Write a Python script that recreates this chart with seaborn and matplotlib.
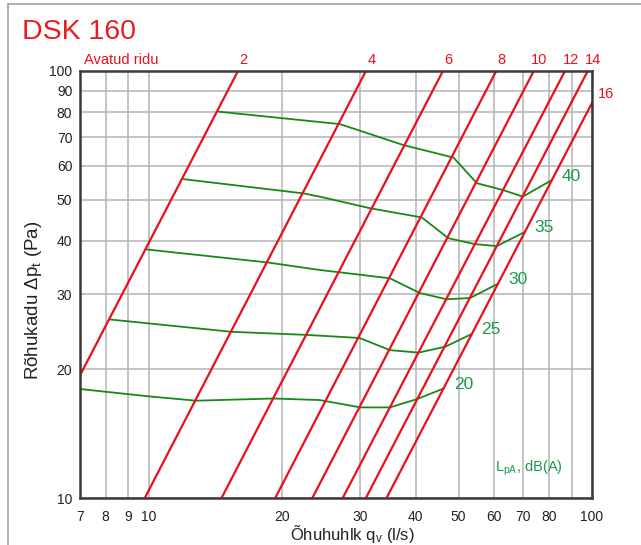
import numpy as np
import pandas as pd
import matplotlib
matplotlib.use("Agg")
import matplotlib.pyplot as plt
from matplotlib.lines import Line2D
import seaborn as sns

# ---------------- data ----------------
# damper positions (red lines): flow q at dp=10 Pa and at dp=100 Pa
positions = ["2", "4", "6", "8", "10", "12", "14", "16"]
q_at_10 = [5.03, 9.8, 14.6, 19.3, 23.4, 27.4, 30.9, 34.4]
q_at_100 = [15.9, 30.9, 46.1, 60.8, 73.9, 86.9, 97.8, 109.0]
dp_ends = [10, 100]

# sound level contours (green lines)
levels = ["20", "25", "30", "35", "40"]
lvl_q = {
    "20": [7.0, 10.0, 12.8, 19.1, 24.3, 30.0, 35.0, 40.2, 46.4],
    "25": [8.14, 15.4, 22.7, 29.9, 35.0, 40.6, 46.6, 53.5],
    "30": [9.9, 18.6, 24.3, 26.8, 35.0, 40.9, 47.0, 53.1, 61.5],
    "35": [12.0, 22.3, 24.3, 31.6, 41.3, 47.4, 54.5, 61.0, 70.6],
    "40": [14.4, 27.0, 37.5, 48.7, 55.0, 63.1, 69.8, 81.1],
}
lvl_dp = {
    "20": [18.0, 17.3, 16.9, 17.1, 16.96, 16.3, 16.3, 17.03, 18.07],
    "25": [26.2, 24.5, 24.1, 23.7, 22.2, 21.9, 22.6, 24.2],
    "30": [38.2, 35.6, 34.2, 33.8, 32.7, 30.2, 29.2, 29.4, 31.8],
    "35": [55.8, 51.7, 50.8, 47.7, 45.4, 40.6, 39.3, 38.9, 42.0],
    "40": [80.3, 75.1, 67.1, 62.7, 54.6, 52.6, 50.8, 55.5],
}

x_ticks = [7, 8, 9, 10, 20, 30, 40, 50, 60, 70, 80, 90, 100]
x_tick_labels = ["7", "8", "9", "10", "20", "30", "40", "50", "60", "70", "80", "", "100"]
y_ticks = [10, 20, 30, 40, 50, 60, 70, 80, 90, 100]
y_tick_labels = ["10", "20", "30", "40", "50", "60", "70", "80", "90", "100"]

# ---------------- style ----------------
sns.set_style("white")
plt.rcParams["font.family"] = ["Liberation Sans", "DejaVu Sans"]

RED = "#e8101c"
GREEN = "#17881a"
GREEN_TXT = "#1a9a4a"
GRID = "#b4b4b4"
SPINE = "#3a3a3a"
TXT = "#222222"

W, H = 641, 545
fig = plt.figure(figsize=(W / 100, H / 100), dpi=100)
ax = fig.add_axes([80 / W, 1 - 498 / H, 512 / W, 427 / H])

# red lines
red_rows = []
for p, a, b in zip(positions, q_at_10, q_at_100):
    red_rows.append({"pos": p, "q": a, "dp": dp_ends[0]})
    red_rows.append({"pos": p, "q": b, "dp": dp_ends[1]})
red_df = pd.DataFrame(red_rows)

green_rows = []
for lv in levels:
    for i, (q, d) in enumerate(zip(lvl_q[lv], lvl_dp[lv])):
        green_rows.append({"lvl": lv, "i": i, "q": q, "dp": d})
green_df = pd.DataFrame(green_rows)

ax.set_xscale("log")
ax.set_yscale("log")

sns.lineplot(data=green_df, x="q", y="dp", units="lvl", estimator=None,
             sort=False, color=GREEN, lw=1.3, ax=ax, zorder=3)
sns.lineplot(data=red_df, x="q", y="dp", units="pos", estimator=None,
             sort=False, color=RED, lw=1.6, ax=ax, zorder=4)

ax.set_xlim(7, 100)
ax.set_ylim(10, 100)
ax.xaxis.set_minor_locator(matplotlib.ticker.NullLocator())
ax.yaxis.set_minor_locator(matplotlib.ticker.NullLocator())
ax.set_xticks(x_ticks)
ax.set_xticklabels(x_tick_labels)
ax.set_yticks(y_ticks)
ax.set_yticklabels(y_tick_labels)
ax.tick_params(axis="x", length=0, pad=8.5, labelsize=10, labelcolor=TXT)
ax.tick_params(axis="y", length=0, pad=5.5, labelsize=10, labelcolor=TXT)
ax.grid(True, which="major", color=GRID, lw=1.1)
ax.set_axisbelow(True)
for s in ax.spines.values():
    s.set_visible(True)
    s.set_color(SPINE)
    s.set_linewidth(1.8)
    s.set_zorder(6)
ax.set_xlabel("")
ax.set_ylabel("")

# labels of red lines (above top edge)
for p, b in zip(positions[:-1], q_at_100[:-1]):
    ax.annotate(p, xy=(b, 100), xycoords="data", xytext=(4, 3),
                textcoords="offset points", ha="center", va="bottom",
                color=RED, fontsize=10.5, annotation_clip=False)
ax.annotate(positions[-1], xy=(1.0, 84), xycoords=("axes fraction", "data"),
            xytext=(4, 7), textcoords="offset points", ha="left",
            va="center", color=RED, fontsize=10.5, annotation_clip=False)
ax.annotate("Avatud ridu", xy=(0, 1), xycoords="axes fraction",
            xytext=(3, 3), textcoords="offset points", ha="left",
            va="bottom", color=RED, fontsize=10.5, annotation_clip=False)

# labels of green lines
for lv in levels:
    ax.annotate(lv, xy=(lvl_q[lv][-1], lvl_dp[lv][-1]), xytext=(7, 3),
                textcoords="offset points", ha="left", va="center",
                color=GREEN_TXT, fontsize=12.5, annotation_clip=False)
ax.text(495 / W, 1 - 472 / H, r"$\mathregular{L_{pA}}$, dB(A)",
        transform=fig.transFigure, ha="left", va="baseline",
        color=GREEN_TXT, fontsize=10.5)

# title and axis labels
fig.text(22 / W, 1 - 39 / H, "DSK 160", color="#e31e24", fontsize=20.5,
         ha="left", va="baseline")
fig.text(352 / W, 1 - 540 / H, r"Õhuhuhlk $\mathregular{q_v}$ (l/s)",
         color=TXT, fontsize=12, ha="center", va="baseline")
fig.text(34 / W, 1 - 300 / H, r"Rõhukadu $\mathregular{\Delta p_t}$ (Pa)",
         color=TXT, fontsize=13.5, ha="center", va="center", rotation=90)

# outer frame (partial)
fig.add_artist(Line2D([8 / W, 1.0], [1 - 4 / H, 1 - 4 / H],
                      transform=fig.transFigure, color="#a8a8a8", lw=1.3))
fig.add_artist(Line2D([8 / W, 8 / W], [0.0, 1 - 4 / H],
                      transform=fig.transFigure, color="#a8a8a8", lw=1.3))

fig.savefig("out.png", dpi=100)
